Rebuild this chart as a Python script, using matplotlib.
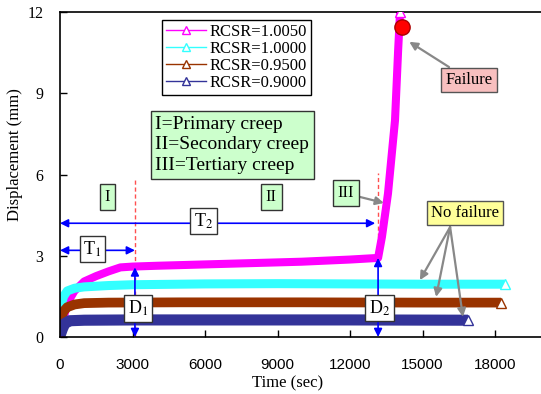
import numpy as np
import matplotlib
matplotlib.use("Agg")
import matplotlib.pyplot as plt
from matplotlib.lines import Line2D

plt.rcParams["font.family"] = ["Liberation Serif", "DejaVu Serif"]
plt.rcParams["mathtext.fontset"] = "stix"

# creep curves, time in sec and displacement in mm
t_1005 = [0, 100, 300, 600, 1000, 1500, 2000, 2500, 3000, 4000, 6000, 8000, 10000, 12000, 13160, 13320, 13570, 13860, 13990, 14070]
d_1005 = [0, 0.5, 1.25, 1.7, 2.05, 2.25, 2.42, 2.57, 2.6, 2.63, 2.68, 2.73, 2.78, 2.86, 2.92, 3.7, 5.3, 8.0, 10.6, 12.0]

t_1000 = [0, 50, 150, 300, 600, 1000, 2000, 3000, 6000, 9000, 12000, 15000, 18400]
d_1000 = [0.8, 1.2, 1.5, 1.7, 1.8, 1.85, 1.9, 1.93, 1.96, 1.97, 1.96, 1.95, 1.95]

t_0950 = [0, 50, 150, 300, 600, 1000, 2000, 5000, 10000, 15000, 18250]
d_0950 = [0.4, 0.7, 0.95, 1.1, 1.2, 1.25, 1.27, 1.28, 1.28, 1.27, 1.27]

t_0900 = [0, 100, 200, 400, 1000, 3000, 8000, 12000, 16880]
d_0900 = [0.05, 0.3, 0.5, 0.6, 0.62, 0.63, 0.63, 0.63, 0.62]

labels = ["RCSR=1.0050", "RCSR=1.0000", "RCSR=0.9500", "RCSR=0.9000"]
colors = ["#FF00FF", "#33FFFF", "#993300", "#333399"]

# stage boundaries
t_stage1 = 3100
t_stage2 = 13160
d_at_t1 = 2.57
d_at_t2 = 2.92
failure_point = (14150, 11.45)

fig = plt.figure(figsize=(5.41, 3.94), dpi=100)
ax = fig.add_axes([60 / 541, 57 / 394, 481 / 541, 325 / 394])

series = [(t_1005, d_1005), (t_1000, d_1000), (t_0950, d_0950), (t_0900, d_0900)]
widths = [5.8, 6.5, 7.0, 8.0]
for (t, d), c, lw in zip(series, colors, widths):
    ax.plot(t, d, color=c, lw=lw, solid_capstyle="butt", zorder=2)
for (t, d), c in zip(series, colors):
    ax.plot(t[-1], d[-1], marker="^", ms=7, mfc="white", mec=c, mew=1, zorder=3)

ax.plot(*failure_point, "o", ms=11, color="#FF0000", mec="#AA0000", zorder=5)

# stage dividers
ax.plot([t_stage1, t_stage1], [0, 5.87], ls=(0, (3, 2)), color="#FF5050", lw=1, zorder=1)
ax.plot([t_stage2, t_stage2], [d_at_t2, 6.05], ls=(0, (3, 2)), color="#FF5050", lw=1, zorder=1)

blue = dict(arrowstyle="<|-|>", color="#0000FF", lw=1.2, mutation_scale=12, shrinkA=0, shrinkB=0)
ax.annotate("", xy=(t_stage1, 3.2), xytext=(0, 3.2), arrowprops=blue, zorder=4)
ax.annotate("", xy=(13040, 4.2), xytext=(0, 4.2), arrowprops=blue, zorder=4)
ax.annotate("", xy=(t_stage1, d_at_t1), xytext=(t_stage1, 0), arrowprops=blue, zorder=4)
ax.annotate("", xy=(t_stage2, d_at_t2), xytext=(t_stage2, 0), arrowprops=blue, zorder=4)

white_box = dict(boxstyle="square,pad=0.2", fc="white", ec="#333333", lw=1)
green_box = dict(boxstyle="square,pad=0.3", fc="#CCFFCC", ec="#333333", lw=1)
for x, y, s in [(1345, 3.25, r"T$_1$"), (5940, 4.28, r"T$_2$"),
                (3230, 1.05, r"D$_1$"), (13220, 1.07, r"D$_2$")]:
    ax.text(x, y, s, ha="center", va="center", fontsize=13, bbox=white_box, zorder=6)
for x, s in [(1966, "I"), (8730, "II")]:
    ax.text(x, 5.17, s, ha="center", va="center", fontsize=12, bbox=green_box, zorder=6)

gray = dict(arrowstyle="-|>", color="#888888", lw=1.6, mutation_scale=12, shrinkA=0, shrinkB=0)
ax.annotate("III", xy=(13400, 4.95), xytext=(11830, 5.3), ha="center", va="center",
            fontsize=12, bbox=green_box, arrowprops=gray, zorder=6)

ax.text(3950, 7.09, "I=Primary creep\nII=Secondary creep\nIII=Tertiary creep",
        ha="left", va="center", fontsize=14, linespacing=1.3,
        bbox=dict(boxstyle="square,pad=0.25", fc="#CCFFCC", ec="#333333", lw=1), zorder=6)

ax.annotate("Failure", xy=(14450, 10.9), xytext=(16920, 9.5), ha="center", va="center",
            fontsize=12, bbox=dict(boxstyle="square,pad=0.25", fc="#F8BFBF", ec="#555555", lw=1),
            arrowprops=gray, zorder=6)

nf_targets = [(14890, 2.1), (15560, 1.48), (16670, 0.74)]
for xy in nf_targets:
    ax.annotate("", xy=xy, xytext=(16140, 4.06), arrowprops=gray, zorder=5)
ax.text(16760, 4.58, "No failure", ha="center", va="center", fontsize=12,
        bbox=dict(boxstyle="square,pad=0.25", fc="#FFFF99", ec="#555555", lw=1), zorder=6)

handles = [Line2D([], [], color=c, lw=1, marker="^", ms=6, mfc="white", mec=c) for c in colors]
leg = ax.legend(handles, labels, loc="upper left", bbox_to_anchor=(162 / 541, 1 - 20 / 394),
                bbox_transform=fig.transFigure, borderaxespad=0, fontsize=12,
                handlelength=2.4, handletextpad=0.2, labelspacing=0.05, borderpad=0.25,
                fancybox=False, framealpha=1)
leg.get_frame().set_edgecolor("black")
leg.get_frame().set_linewidth(1)
leg.set_zorder(7)

ax.set_xlim(0, 19900)
ax.set_ylim(0, 12)
ax.set_xticks(np.arange(0, 18001, 3000))
ax.set_yticks(np.arange(0, 13, 3))
ax.tick_params(direction="in", length=5, width=1)
ax.tick_params(axis="y", labelsize=11.5, pad=12)
for lab in ax.get_xticklabels():
    lab.set_fontfamily("Liberation Sans")
    lab.set_fontsize(11)
ax.tick_params(axis="x", pad=15)
ax.spines["right"].set_visible(False)
for sp in ["left", "bottom", "top"]:
    ax.spines[sp].set_linewidth(1.2)

ax.set_xlabel("Time (sec)", fontsize=12)
ax.set_ylabel("Displacement (mm)", fontsize=12)
ax.xaxis.set_label_coords(0.474, -0.117)
ax.yaxis.set_label_coords(-0.077, 0.56)

plt.savefig("out.png", dpi=100)
